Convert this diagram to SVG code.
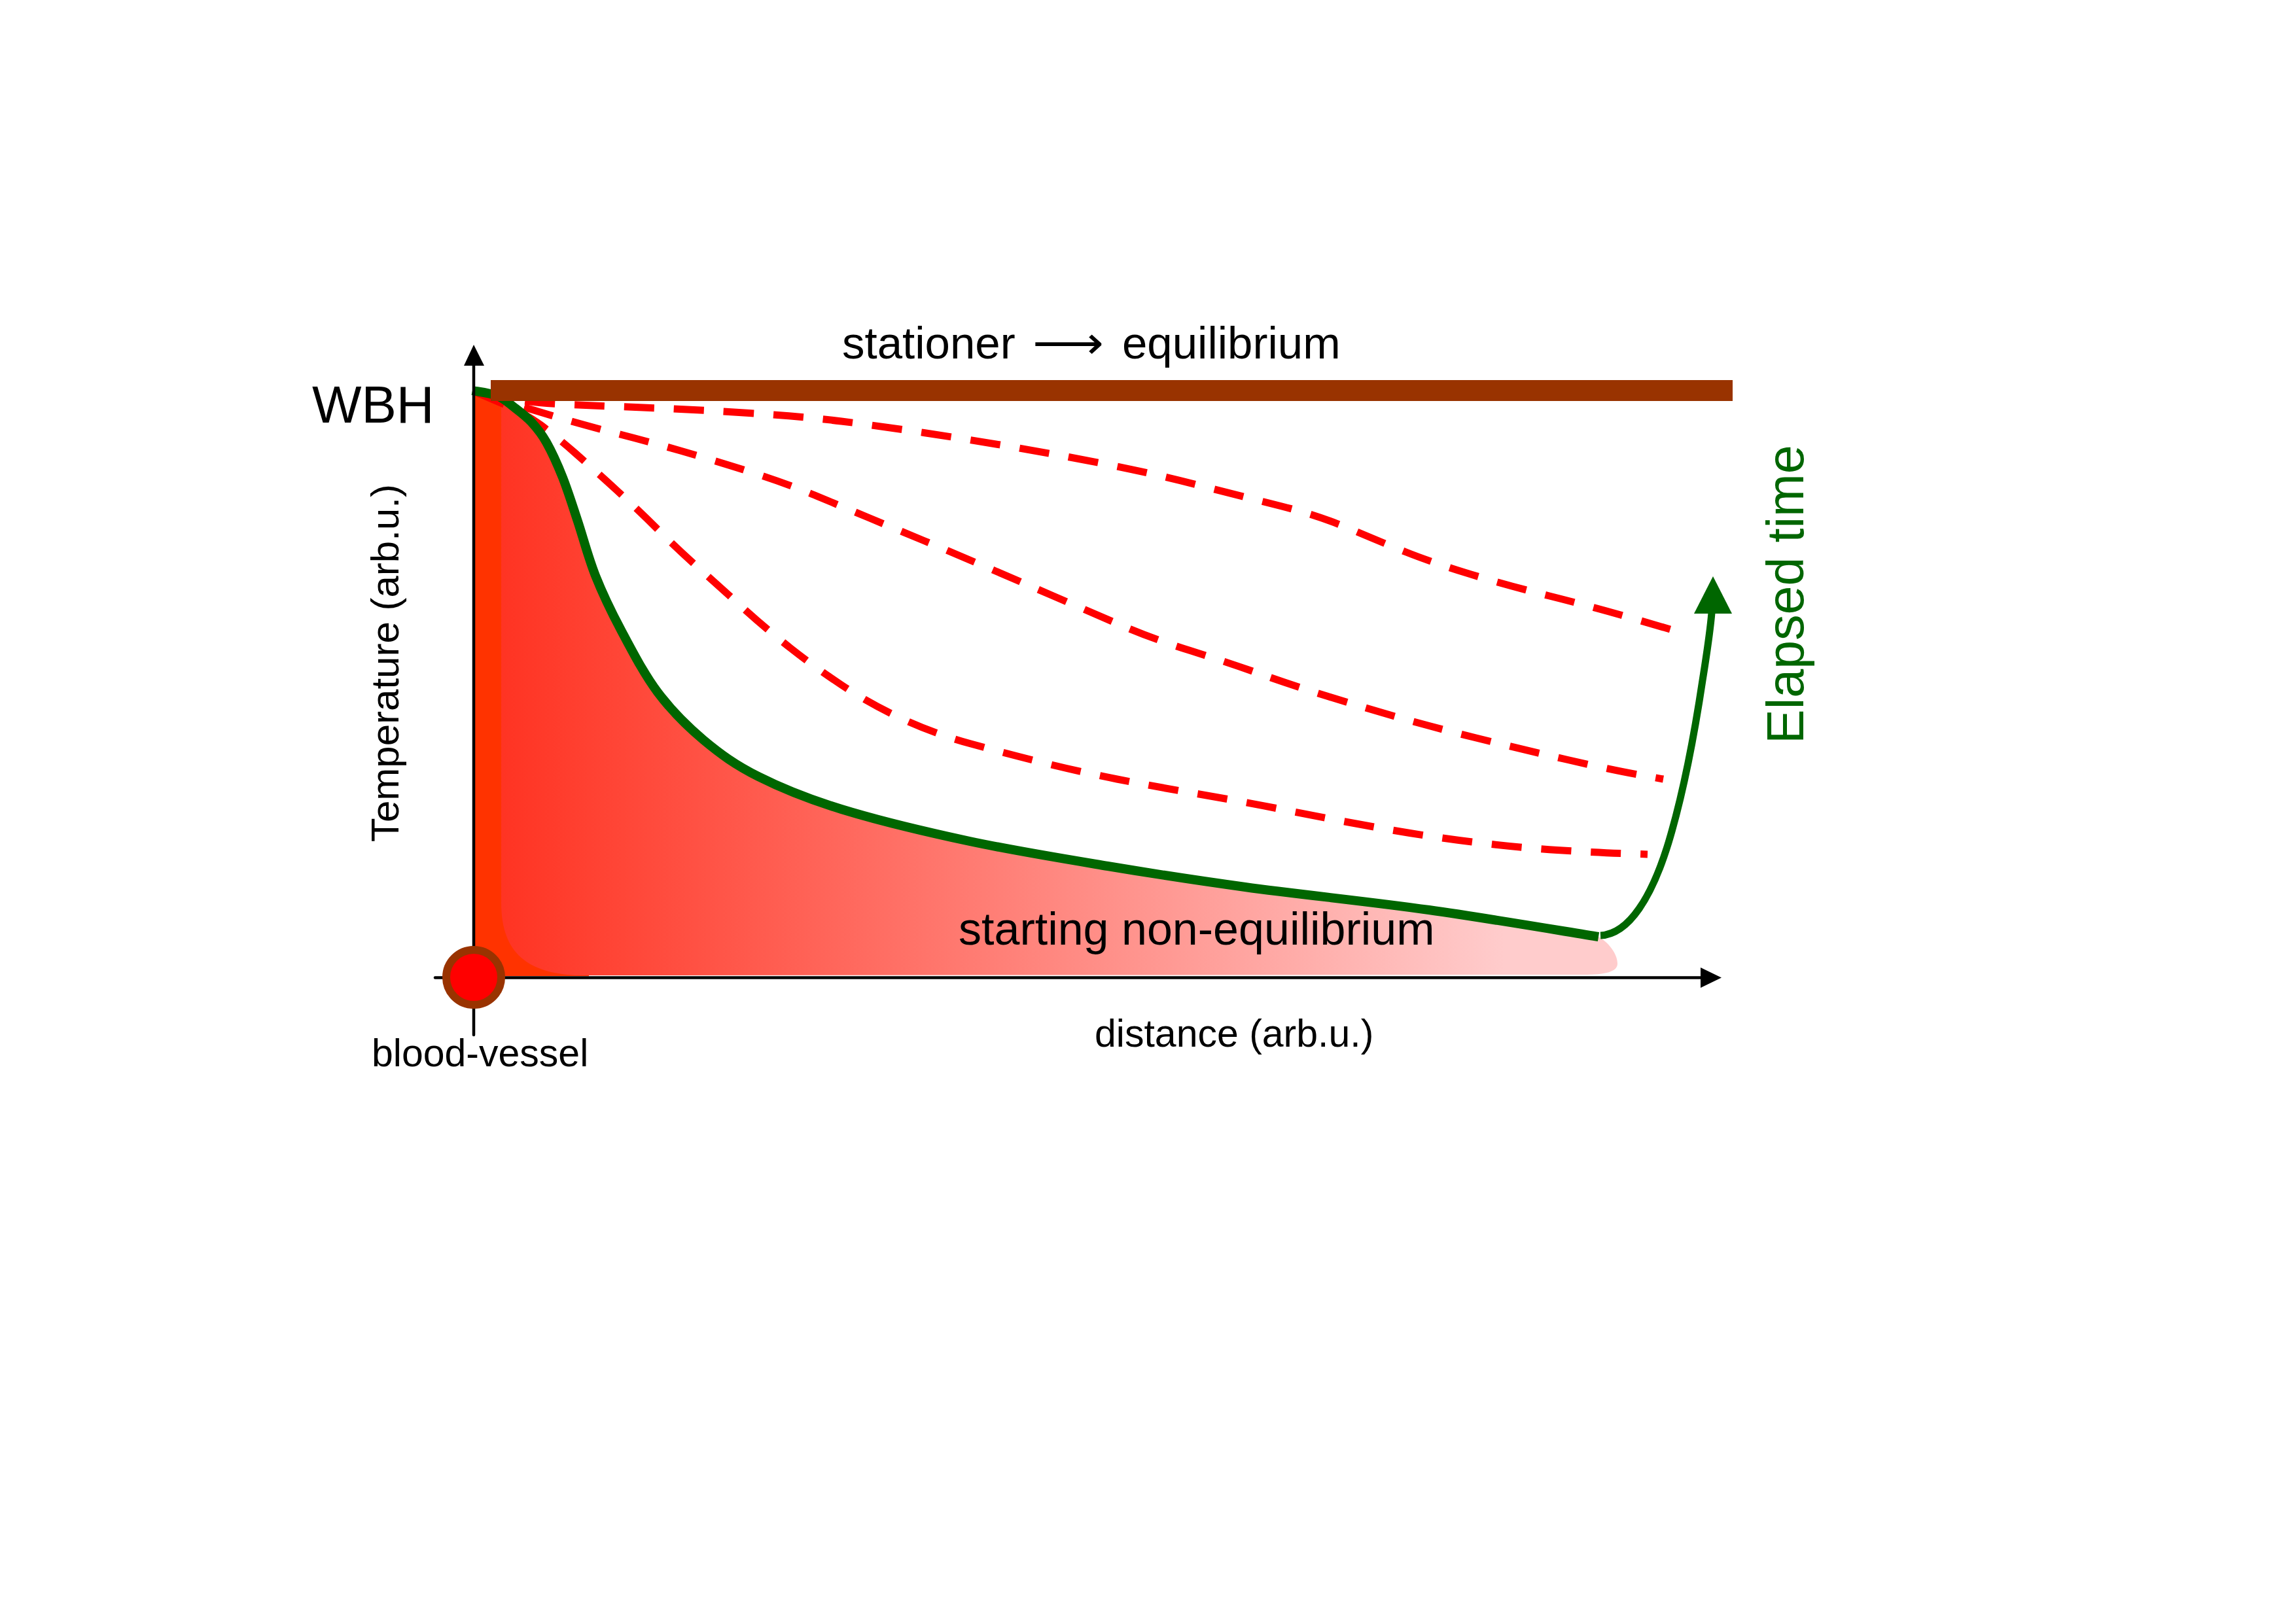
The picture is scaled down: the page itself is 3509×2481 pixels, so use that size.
<svg xmlns="http://www.w3.org/2000/svg" width="3509" height="2481" viewBox="0 0 3509 2481">
<style>
text{font-family:"Liberation Sans",Arial,sans-serif;fill:#000}
.dash{fill:none;stroke:#FF0000;stroke-width:11;stroke-dasharray:46 30}
.axis{stroke:#000;stroke-width:4.5;fill:none;stroke-linecap:round}
.green{fill:none;stroke:#006600}
</style>
<defs>
<linearGradient id="heat" gradientUnits="userSpaceOnUse" x1="760" y1="0" x2="2300" y2="0">
<stop offset="0" stop-color="#FF3322"/>
<stop offset="1" stop-color="#FFCCCC"/>
</linearGradient>
</defs>
<rect width="3509" height="2481" fill="#fff"/>
<g id="heat-area">
<path d="M722,597 C728.3,598.3 749.5,600.8 760,605 C770.5,609.2 776.3,615.3 785,622 C793.7,628.7 803.7,636 812,645 L900,1000 L900,1492 L724,1492 Z" fill="#FF3300"/>
<path d="M760,605 C770.5,609.2 776.3,615.3 785,622 C793.7,628.7 803.7,636 812,645 C820.3,654 827,661.8 835,676 C843,690.2 852,709.8 860,730 C868,750.2 874.7,772 883,797 C891.3,822 899,852.3 910,880 C921,907.7 933.2,933.3 949,963 C964.8,992.7 984,1030 1005,1058 C1026,1086 1049.3,1109.5 1075,1131 C1100.7,1152.5 1123.8,1169.3 1159,1187 C1194.2,1204.7 1232.2,1220.5 1286,1237 C1339.8,1253.5 1414.2,1271.5 1482,1286 C1549.8,1300.5 1622.8,1312.3 1693,1324 C1763.2,1335.7 1821.2,1344.8 1903,1356 C1984.8,1367.2 2094,1378.3 2184,1391 C2274,1403.7 2399.8,1425.2 2443,1432 C2458,1440 2472,1458 2472,1473 C2472,1486 2452,1490 2420,1490 L880,1491 C810,1487 766,1460 766,1380 L766,612 Z" fill="url(#heat)"/>
</g>
<g id="connectors">
<path id="curve-1" class="dash" d="M728,598 L765.5,606.5 Q803,615 854,617.5 Q905,620 983,623 Q1061,626 1145.5,631.5 Q1230,637 1286,644 Q1342,651 1412,661.5 Q1482,672 1552,684 Q1622,696 1692.5,710 Q1763,724 1833,742 Q1903,760 1959,774 Q2015,788 2064.5,809 Q2114,830 2149,844 Q2184,858 2240,875.5 Q2296,893 2366,910.5 Q2436,928 2508,949 L2580,970"/>
<path id="curve-2" class="dash" d="M728,600 L770,613 Q812,626 852.5,638 Q893,650 942,662.5 Q991,675 1040,689 Q1089,703 1145.5,721 Q1202,739 1244,756.5 Q1286,774 1328,791.5 Q1370,809 1412,826.5 Q1454,844 1503,865 Q1552,886 1608.5,910.5 Q1665,935 1714,956 Q1763,977 1819,994.5 Q1875,1012 1924,1029.5 Q1973,1047 2029.5,1064.5 Q2086,1082 2135,1096 Q2184,1110 2254,1127.5 Q2324,1145 2394,1161 Q2464,1177 2503,1184 L2542,1191"/>
<path id="curve-3" class="dash" d="M728,600 L765.5,616 Q803,632 827,650 Q851,668 879,692.5 Q907,717 942,749 Q977,781 1005,809 Q1033,837 1068,868.5 Q1103,900 1138,931.5 Q1173,963 1208.5,991 Q1244,1019 1286,1047 Q1328,1075 1377,1098 Q1426,1121 1482,1136.5 Q1538,1152 1594.5,1166 Q1651,1180 1707,1191 Q1763,1202 1833,1214 Q1903,1226 1973,1240 Q2043,1254 2113.5,1266.5 Q2184,1279 2254,1287.5 Q2324,1296 2380,1299.5 Q2436,1303 2477,1304.5 L2518,1306"/>
<path id="start-curve" class="green" stroke-width="14" d="M722,597 C728.3,598.3 749.5,600.8 760,605 C770.5,609.2 776.3,615.3 785,622 C793.7,628.7 803.7,636 812,645 C820.3,654 827,661.8 835,676 C843,690.2 852,709.8 860,730 C868,750.2 874.7,772 883,797 C891.3,822 899,852.3 910,880 C921,907.7 933.2,933.3 949,963 C964.8,992.7 984,1030 1005,1058 C1026,1086 1049.3,1109.5 1075,1131 C1100.7,1152.5 1123.8,1169.3 1159,1187 C1194.2,1204.7 1232.2,1220.5 1286,1237 C1339.8,1253.5 1414.2,1271.5 1482,1286 C1549.8,1300.5 1622.8,1312.3 1693,1324 C1763.2,1335.7 1821.2,1344.8 1903,1356 C1984.8,1367.2 2094,1378.3 2184,1391 C2274,1403.7 2399.8,1425.2 2443,1432"/>
<path id="elapsed-arrow" class="green" stroke-width="11" d="M2446,1430 C2490,1428 2525,1370 2550,1288 C2572,1215 2590,1120 2602,1040 C2610,990 2614,960 2616,937"/>
<polygon points="2618,881 2589,938 2647,938" fill="#006600"/>
</g>
<g id="equilibrium-line">
<rect x="750" y="581" width="1898" height="32" fill="#993300"/>
</g>
<g id="axes">
<line class="axis" x1="724" y1="1582" x2="724" y2="556"/>
<polygon points="724,527 709,559 740,559" fill="#000"/>
<line class="axis" x1="665" y1="1494.5" x2="2601" y2="1494.5"/>
<polygon points="2631,1494.5 2599,1479 2599,1510" fill="#000"/>
</g>
<g id="blood-vessel">
<circle cx="724" cy="1494" r="42" fill="#FF0000" stroke="#993300" stroke-width="12"/>
</g>
<g id="labels">
<text x="477" y="646" font-size="80">WBH</text>
<text transform="translate(609,1287) rotate(-90)" font-size="60">Temperature (arb.u.)</text>
<text x="1287" y="548" font-size="69">stationer <tspan x="1578" font-family="DejaVu Sans" textLength="109" lengthAdjust="spacingAndGlyphs">⟶</tspan><tspan x="1715">equilibrium</tspan></text>
<text x="1465" y="1444" font-size="70">starting non-equilibrium</text>
<text x="1673" y="1600" font-size="59">distance (arb.u.)</text>
<text x="568" y="1630" font-size="59">blood-vessel</text>
<text transform="translate(2756,1137) rotate(-90)" font-size="79" style="fill:#006600">Elapsed time</text>
</g>
</svg>
